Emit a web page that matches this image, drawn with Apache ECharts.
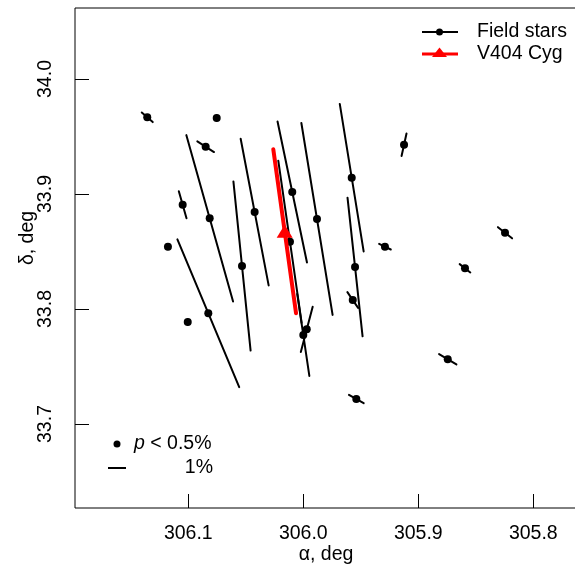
<!DOCTYPE html>
<html>
<head>
<meta charset="utf-8">
<script src="https://cdn.jsdelivr.net/npm/echarts@6/dist/echarts.min.js"></script>
<style>
html,body{margin:0;padding:0;background:#fff;}
#chart{width:575px;height:567px;}
</style>
</head>
<body>
<div id="chart"></div>
<script>
// ---- data ----
// Field stars: right ascension (deg), declination (deg), polarization degree (%), position angle (deg, N through E)
const fieldRA  = [306.1357, 306.0753, 306.0849, 306.1049, 306.0814, 306.1177, 306.0826, 306.1005,
                  306.0533, 306.0423, 306.0096, 306.0116, 305.9881, 305.9579, 305.9550, 305.9570,
                  305.9539, 305.9290, 305.9124, 305.8594, 305.8744, 305.8246, 306.0000, 305.9970];
const fieldDec = [33.9667, 33.9661, 33.9411, 33.8907, 33.8789, 33.8542, 33.7963, 33.7887,
                  33.8374, 33.8843, 33.9017, 33.8585, 33.8783, 33.9142, 33.8365, 33.8078,
                  33.7217, 33.8542, 33.9429, 33.8354, 33.7563, 33.8663, 33.7774, 33.7823];
const fieldP   = [0.81, 0.30, 1.10, 1.56, 9.60, 0.30, 8.90, 0.30,
                  9.45, 8.30, 8.00, 9.10, 10.80, 8.30, 7.75, 1.06,
                  0.94, 0.72, 1.28, 0.75, 1.12, 1.00, 4.60, 2.60];
const fieldPA  = [48.7, 0, 57.4, 15.9, 15.7, 0, 22.7, 0,
                  5.8, 10.8, 11.8, 8.2, 9.25, 9.2, 6.2, 34.2,
                  60.4, 64.0, -12.4, 52.0, 59.2, 51.7, 8.4, -14.7];
// Target
const targetRA  = [306.0162];
const targetDec = [33.8676];
const targetP   = [9.2];
const targetPA  = [7.9];
// Axis ticks
const xTicks = [305.8, 305.9, 306.0, 306.1];
const yTicks = [33.7, 33.8, 33.9, 34.0];

// ---- scale: length of a 1% vector in degrees ----
const DEG_PER_PCT = 0.01565;

const FONT = 'Liberation Sans, Arial, Helvetica, sans-serif';
const FS = 19.5;

const fieldData = fieldRA.map((a, i) => [a, fieldDec[i], fieldP[i], fieldPA[i]]);
const targetData = targetRA.map((a, i) => [a, targetDec[i], targetP[i], targetPA[i]]);

function vecRenderer(color, width) {
  return function (params, api) {
    const a = api.value(0), d = api.value(1), p = api.value(2);
    const pa = api.value(3) * Math.PI / 180;
    const h = p * DEG_PER_PCT / 2;
    const p1 = api.coord([a + h * Math.sin(pa), d + h * Math.cos(pa)]);
    const p2 = api.coord([a - h * Math.sin(pa), d - h * Math.cos(pa)]);
    return {
      type: 'line',
      shape: { x1: p1[0], y1: p1[1], x2: p2[0], y2: p2[1] },
      style: { stroke: color, lineWidth: width, lineCap: 'round' }
    };
  };
}

const chart = echarts.init(document.getElementById('chart'), null, { renderer: 'canvas' });

const option = {
  animation: false,
  backgroundColor: '#fff',
  grid: {
    left: 75, top: 8, width: 502, height: 500,
    containLabel: false, outerBoundsMode: 'none',
    show: true, borderColor: '#000', borderWidth: 1, backgroundColor: 'transparent'
  },
  xAxis: {
    type: 'value', inverse: true,
    min: 305.7620, max: 306.19852,
    name: 'α, deg', nameLocation: 'middle', nameGap: 37, nameMoveOverlap: false,
    nameTextStyle: { fontFamily: FONT, fontSize: FS, color: '#000' },
    axisLine: { show: false },
    splitLine: { show: false },
    axisTick: { show: true, inside: true, length: 14, customValues: xTicks, lineStyle: { color: '#000', width: 1 } },
    axisLabel: { show: true, customValues: xTicks, margin: 16, fontFamily: FONT, fontSize: FS, color: '#000',
                 formatter: v => v.toFixed(1) }
  },
  yAxis: {
    type: 'value',
    min: 33.62696, max: 34.06174,
    name: 'δ, deg', nameLocation: 'middle', nameGap: 37, nameRotate: 90, nameMoveOverlap: false,
    nameTextStyle: { fontFamily: FONT, fontSize: FS, color: '#000', padding: [0, 0, 0, 40] },
    axisLine: { show: false },
    splitLine: { show: false },
    axisTick: { show: true, inside: true, length: 14, customValues: yTicks, lineStyle: { color: '#000', width: 1 } },
    axisLabel: { show: true, customValues: yTicks, rotate: 90, margin: 19, fontFamily: FONT, fontSize: FS, color: '#000',
                 formatter: v => v.toFixed(1) }
  },
  series: [
    {
      name: 'Field stars vectors', type: 'custom', data: fieldData,
      encode: { x: 0, y: 1 }, renderItem: vecRenderer('#000', 2), z: 2
    },
    {
      name: 'Field stars', type: 'scatter', data: fieldData,
      encode: { x: 0, y: 1 }, symbol: 'circle', symbolSize: 8,
      itemStyle: { color: '#000', opacity: 1 }, z: 3
    },
    {
      name: 'V404 Cyg vector', type: 'custom', data: targetData,
      encode: { x: 0, y: 1 }, renderItem: vecRenderer('#ff0000', 4), z: 4
    },
    {
      name: 'V404 Cyg', type: 'scatter', data: targetData,
      encode: { x: 0, y: 1 }, symbol: 'triangle', symbolSize: [16, 13],
      itemStyle: { color: '#ff0000', opacity: 1 }, z: 5
    }
  ],
  graphic: [
    // top-right legend
    { type: 'line', shape: { x1: 422, y1: 32, x2: 458, y2: 32 }, style: { stroke: '#000', lineWidth: 2 } },
    { type: 'circle', shape: { cx: 439.5, cy: 32, r: 3.5 }, style: { fill: '#000' } },
    { type: 'text', x: 477, y: 32, style: { text: 'Field stars', fontFamily: FONT, fontSize: FS, fill: '#000', verticalAlign: 'middle', align: 'left' } },
    { type: 'line', shape: { x1: 422, y1: 54, x2: 458, y2: 54 }, style: { stroke: '#ff0000', lineWidth: 3 } },
    { type: 'polygon', shape: { points: [[439.5, 47.5], [447, 57], [432, 57]] }, style: { fill: '#ff0000' } },
    { type: 'text', x: 477, y: 54, style: { text: 'V404 Cyg', fontFamily: FONT, fontSize: FS, fill: '#000', verticalAlign: 'middle', align: 'left' } },
    // bottom-left legend
    { type: 'circle', shape: { cx: 117, cy: 444, r: 3.5 }, style: { fill: '#000' } },
    { type: 'text', x: 134, y: 444, style: {
        text: '{i|p} < 0.5%', fontFamily: FONT, fontSize: FS, fill: '#000', verticalAlign: 'middle', align: 'left',
        rich: { i: { fontStyle: 'italic', fontFamily: FONT, fontSize: FS, fill: '#000' } } } },
    { type: 'line', shape: { x1: 108, y1: 468, x2: 126, y2: 468 }, style: { stroke: '#000', lineWidth: 2 } },
    { type: 'text', x: 213, y: 468, style: { text: '1%', fontFamily: FONT, fontSize: FS, fill: '#000', verticalAlign: 'middle', align: 'right' } }
  ]
};
chart.setOption(option);
</script>
</body>
</html>
